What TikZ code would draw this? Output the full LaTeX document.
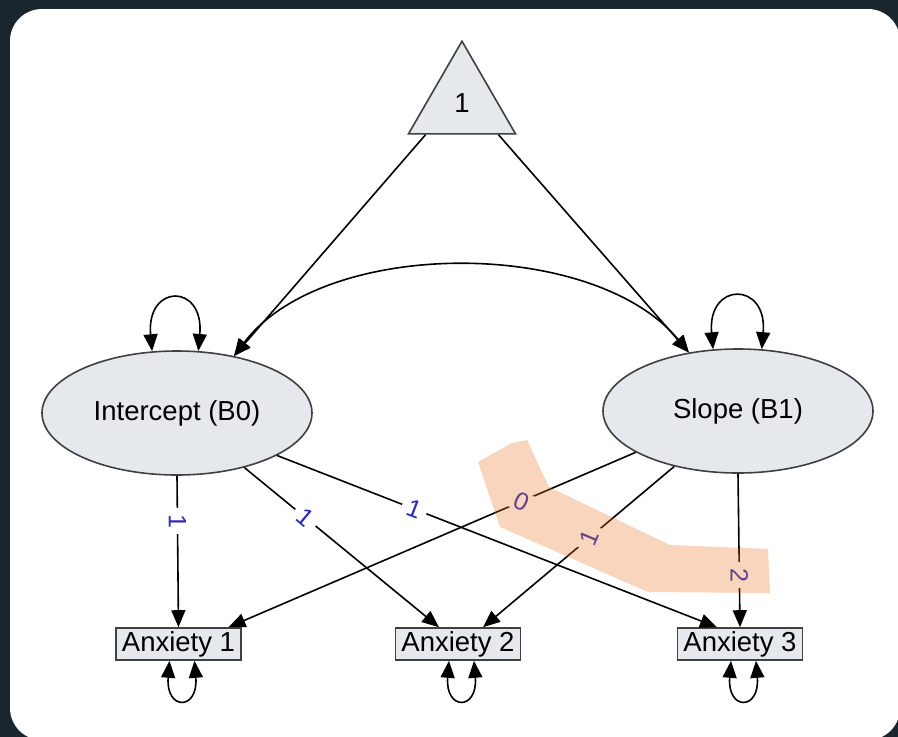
\documentclass[tikz,border=0pt]{standalone}
\usepackage{fontspec}
\setmainfont{Liberation Sans}
\usetikzlibrary{shapes.geometric,arrows.meta}

\definecolor{frame}{RGB}{27,37,45}
\definecolor{nodefill}{RGB}{229,233,237}
\definecolor{nodeline}{RGB}{64,64,64}
\definecolor{loadblue}{RGB}{43,43,184}
\definecolor{marker}{RGB}{238,118,38}

\begin{document}
\begin{tikzpicture}[x=1pt,y=-1pt,
  nodetext/.style={font=\fontsize{27.5}{33}\selectfont},
  latent/.style={nodetext, ellipse, draw=nodeline, fill=nodefill, line width=1.6pt,
    minimum width=270pt, minimum height=124pt, inner sep=0pt},
  observed/.style={nodetext, rectangle, draw=nodeline, fill=nodefill, line width=1.6pt,
    minimum width=125pt, minimum height=32pt, inner sep=0pt},
  constant/.style={nodetext, regular polygon, regular polygon sides=3, draw=nodeline,
    fill=nodefill, line width=1.6pt, minimum size=123.6pt, inner sep=0pt},
  tip/.tip={Triangle[length=17pt,width=14pt]},
  regpath/.style={line width=1.6pt, -tip},
  covpath/.style={line width=1.6pt, tip-tip},
  loadlabel/.style={fill=white, inner xsep=6pt, inner ysep=1pt, text=loadblue,
    font=\fontsize{25}{26}\selectfont},
]
\useasboundingbox (0,0) rectangle (898,737);
\clip (0,0) rectangle (898,737);

% window backdrop
\fill[frame] (0,0) rectangle (898,737);
\fill[white, rounded corners=32pt] (10,9) rectangle (900,740);

% nodes
\node[constant] (one) at (462,103) {1};
\node[latent] (int) at (177,413) {Intercept (B0)};
\node[latent] (slo) at (738,411) {Slope (B1)};
\node[observed] (a1) at (178.5,644) {Anxiety 1};
\node[observed] (a2) at (458,644) {Anxiety 2};
\node[observed] (a3) at (740,644) {Anxiety 3};

% means
\draw[regpath] (one.221) -- (int.45);
\draw[regpath] (one.319) -- (slo.130);

% covariance of the growth factors
\draw[covpath] (int.45) .. controls +(90,-119) and +(-95,-115) .. (slo.130);

% variances
\draw[covpath] (int.112) .. controls +(-6,-68) and +(6,-68) .. (int.71);
\draw[covpath] (slo.112) .. controls +(-6,-68) and +(6,-68) .. (slo.69);
\draw[covpath] ([xshift=-9pt]a1.south) .. controls +(-4,50) and +(4,50) .. ([xshift=16pt]a1.south);
\draw[covpath] ([xshift=-9pt]a2.south) .. controls +(-4,50) and +(4,50) .. ([xshift=16pt]a2.south);
\draw[covpath] ([xshift=-9pt]a3.south) .. controls +(-4,50) and +(4,50) .. ([xshift=16pt]a3.south);

% intercept loadings
\draw[regpath] (int.south) -- (a1.north)
  node[loadlabel, pos=0.30, rotate=-90] {1};
\draw[regpath] (int.-39) -- ([xshift=-19pt]a2.north)
  node[loadlabel, pos=0.314, rotate=-40] {1};
\draw[regpath] (int.-23.5) -- ([xshift=-23pt]a3.north)
  node[loadlabel, pos=0.312, rotate=-21] {1};

% slope loadings
\draw[regpath] (slo.202) -- ([xshift=50pt]a1.north)
  node[loadlabel, pos=0.281, rotate=-25] {0};
\draw[regpath] (slo.221) -- ([xshift=25pt]a2.north)
  node[loadlabel, pos=0.443, rotate=67] {1};
\draw[regpath] (slo.south) -- (a3.north)
  node[loadlabel, pos=0.66, rotate=-90] {2};

% highlighter stroke over the slope loadings
\fill[marker, opacity=0.3] (478,462) -- (512,443) -- (527,440) -- (549,487) -- (670,545)
  -- (768,549) -- (770,593) -- (648,592) -- (500,527) -- cycle;
\end{tikzpicture}
\end{document}
